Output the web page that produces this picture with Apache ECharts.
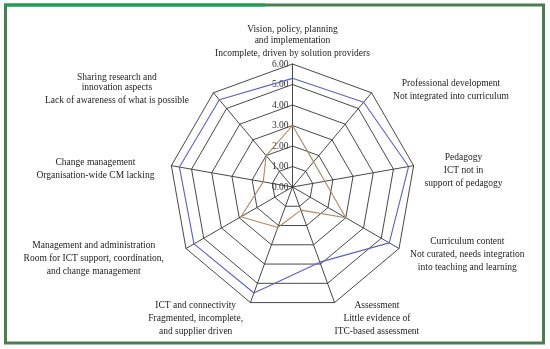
<!DOCTYPE html>
<html>
<head>
<meta charset="utf-8">
<script src="https://cdn.jsdelivr.net/npm/echarts@6/dist/echarts.min.js"></script>
<style>
html,body{margin:0;padding:0;background:#fff;}
#chart{width:550px;height:349px;}
</style>
</head>
<body>
<div id="chart"></div>
<script>
// ---- data ----
const axisTitles = [
  'Vision, policy, planning\nand implementation',
  'Professional development',
  'Pedagogy',
  'Curriculum content',
  'Assessment',
  'ICT and connectivity',
  'Management and administration',
  'Change management',
  'Sharing research and\ninnovation aspects'
];
const axisNotes = [
  'Incomplete, driven by solution providers',
  'Not integrated into curriculum',
  'ICT not in\nsupport of pedagogy',
  'Not curated, needs integration\ninto teaching and learning',
  'Little evidence of\nITC-based assessment',
  'Fragmented, incomplete,\nand supplier driven',
  'Room for ICT support, coordination,\nand change management',
  'Organisation-wide CM lacking',
  'Lack of awareness of what is possible'
];
const blueValues  = [5.3, 5.4, 5.75, 5.45, 3.9, 5.5, 5.55, 5.6, 5.55];
const brownValues = [3.0, 1.6, 1.6, 3.0, 1.2, 2.1, 2.9, 1.45, 2.0];
const tickLabels = ['0.00','1.00','2.00','3.00','4.00','5.00','6.00'];
const axisMax = 6;

// ---- label layout (style only: gap from axis end, padding [t,r,b,l]) ----
const labelGap = [3, 7, 7, 7, 0, 7, 7, 7, 7];
const labelPad = [
  [0, 0, 0, 0],
  [7, 0, 0, 17],
  [12, 0, 0, 4],
  [4, 0, 0, 5],
  [31, 0, 0, 0],
  [18, 5, 0, 0],
  [13, 16, 0, 0],
  [12, 10, 0, 0],
  [6, 20, 0, 0]
];

// ECharts places indicators counter-clockwise; reorder to run clockwise
const order = [0, 8, 7, 6, 5, 4, 3, 2, 1];
const FONT = 'Liberation Serif';

const indicators = order.map((i, k) => {
  const ind = {
    name: axisTitles[i], max: axisMax, min: 0,
    nameGap: labelGap[i],
    nameTextStyle: { padding: labelPad[i] }
  };
  if (k === 0) ind.axisLabel = { show: true };
  return ind;
});

function labelFormatter(name) {
  const i = axisTitles.indexOf(name);
  const titleLines = name.split('\n').map(s => '{t|' + s + '}');
  const noteLines = axisNotes[i].split('\n').map((s, j) => (j === 0 ? '{n|' : '{t|') + s + '}');
  return titleLines.concat(noteLines).join('\n');
}

const chart = echarts.init(document.getElementById('chart'), null, { renderer: 'canvas' });
chart.setOption({
  animation: false,
  backgroundColor: '#ffffff',
  radar: {
    center: [292.5, 187],
    radius: 123,
    startAngle: 90,
    splitNumber: 6,
    shape: 'polygon',
    indicator: indicators,
    nameGap: 7,
    axisName: {
      color: '#222',
      fontFamily: FONT,
      fontSize: 9.5,
      formatter: labelFormatter,
      rich: {
        t: { align: 'center', fontFamily: FONT, fontSize: 9.5, color: '#222', lineHeight: 10.5 },
        n: { align: 'center', fontFamily: FONT, fontSize: 9.5, color: '#222', lineHeight: 15.5 }
      }
    },
    axisLine: { lineStyle: { color: '#333333', width: 0.9 } },
    splitLine: { lineStyle: { color: '#333333', width: 0.9 } },
    splitArea: { show: false },
    axisTick: { show: false },
    axisLabel: {
      show: false,
      fontFamily: FONT,
      fontSize: 9.5,
      color: '#333',
      margin: 4,
      formatter: v => tickLabels[Math.round(v)] || v.toFixed(2)
    }
  },
  graphic: [
    { type: 'rect', shape: { x: 5.5, y: 5, width: 538, height: 338 }, style: { fill: null, stroke: '#4a7d50', lineWidth: 3 } },
    { type: 'line', shape: { x1: 4, y1: 5, x2: 265, y2: 5 }, style: { stroke: '#1f9e55', lineWidth: 3 } }
  ],
  series: [{
    type: 'radar',
    symbol: 'none',
    data: [
      { name: 'Series A', value: order.map(i => blueValues[i]), lineStyle: { color: '#5b62b8', width: 1.1 } },
      { name: 'Series B', value: order.map(i => brownValues[i]), lineStyle: { color: '#a88a68', width: 1.1 } }
    ]
  }]
});
</script>
</body>
</html>
